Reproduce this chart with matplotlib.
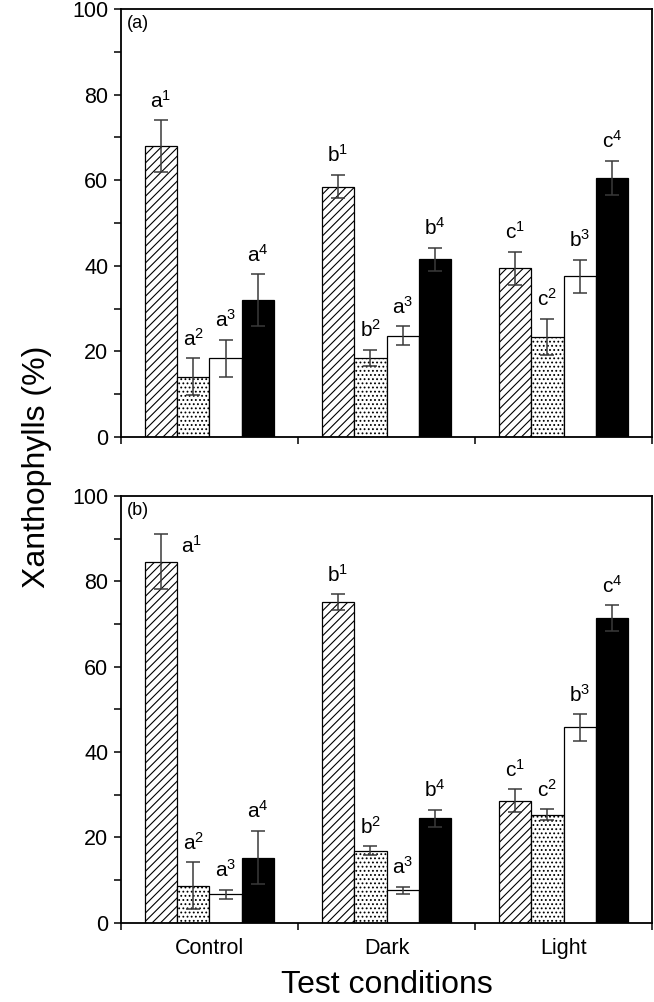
import numpy as np
import matplotlib.pyplot as plt
from matplotlib.ticker import MultipleLocator, FixedLocator

plt.rcParams["font.family"] = ["Liberation Sans", "DejaVu Sans"]
plt.rcParams["mathtext.fontset"] = "custom"
plt.rcParams["mathtext.rm"] = "Liberation Sans"
plt.rcParams["mathtext.it"] = "Liberation Sans:italic"
plt.rcParams["mathtext.default"] = "regular"
plt.rcParams["hatch.linewidth"] = 0.8

# ---------- data ----------
conditions = ["Control", "Dark", "Light"]

# panel (a): rows = 4 series, cols = conditions
a_means = [[68.0, 58.5, 39.4],
           [14.1, 18.4, 23.4],
           [18.4, 23.6, 37.5],
           [32.0, 41.5, 60.5]]
a_errs = [[6.0, 2.7, 3.9],
          [4.3, 1.9, 4.2],
          [4.3, 2.2, 3.9],
          [6.0, 2.7, 4.0]]

# panel (b)
b_means = [[84.6, 75.2, 28.6],
           [8.7, 16.9, 25.3],
           [6.7, 7.6, 45.8],
           [15.3, 24.5, 71.4]]
b_errs = [[6.4, 1.8, 2.7],
          [5.5, 1.0, 1.3],
          [1.0, 0.8, 3.1],
          [6.2, 2.0, 3.0]]

letters = [["a", "b", "c"],
           ["a", "b", "c"],
           ["a", "a", "b"],
           ["a", "b", "c"]]

hatches = ["////", "....", "", ""]
faces = ["white", "white", "white", "black"]

W = 0.1825
ERR_COLOR = "#3a3a3a"


def draw_panel(ax, means, errs, tag, show_xlabels, side_first=False):
    x0 = np.arange(len(conditions)) + 0.5
    for j in range(4):
        xs = x0 + (j - 1.5) * W
        ax.bar(xs, means[j], width=W, color=faces[j], edgecolor="black",
               hatch=hatches[j], linewidth=0.9, zorder=2)
        ax.errorbar(xs, means[j], yerr=errs[j], fmt="none", ecolor=ERR_COLOR,
                    elinewidth=1.1, capsize=5, capthick=1.1, zorder=3)
        for i in range(len(conditions)):
            top = means[j][i] + errs[j][i]
            s = f"{letters[j][i]}$^{{{j + 1}}}$"
            if side_first and i == 0 and j == 0:
                ax.text(xs[i] + W / 2 + 0.02, top - 4.3, s, fontsize=15,
                        ha="left", va="baseline")
            else:
                ax.text(xs[i], top + 3.0, s, fontsize=15,
                        ha="center", va="baseline")

    ax.set_xlim(0, 3)
    ax.set_ylim(0, 100)
    ax.yaxis.set_major_locator(MultipleLocator(20))
    ax.yaxis.set_minor_locator(MultipleLocator(10))
    ax.tick_params(axis="y", which="both", direction="out", length=5,
                   width=1.1, labelsize=15.5, pad=4)
    ax.xaxis.set_major_locator(FixedLocator(x0))
    ax.xaxis.set_minor_locator(FixedLocator([0, 1, 2, 3]))
    ax.tick_params(axis="x", which="major", length=0, labelsize=15.5, pad=11)
    ax.tick_params(axis="x", which="minor", direction="out", length=5, width=1.1)
    if show_xlabels:
        ax.set_xticklabels(conditions)
    else:
        ax.set_xticklabels([])
    for sp in ax.spines.values():
        sp.set_linewidth(1.3)
    ax.text(0.012, 0.985, tag, transform=ax.transAxes, fontsize=13,
            ha="left", va="top")


fig = plt.figure(figsize=(6.54, 10.02), dpi=100)
ax1 = fig.add_axes([0.185, 0.564, 0.812, 0.427])
ax2 = fig.add_axes([0.185, 0.079, 0.812, 0.426])

draw_panel(ax1, a_means, a_errs, "(a)", False)
draw_panel(ax2, b_means, b_errs, "(b)", True, side_first=True)

fig.text(0.057, 0.534, "Xanthophylls (%)", rotation=90, fontsize=23,
         ha="center", va="center")
fig.text(0.591, 0.017, "Test conditions", fontsize=23, ha="center", va="center")

fig.savefig("out.png", dpi=100)
